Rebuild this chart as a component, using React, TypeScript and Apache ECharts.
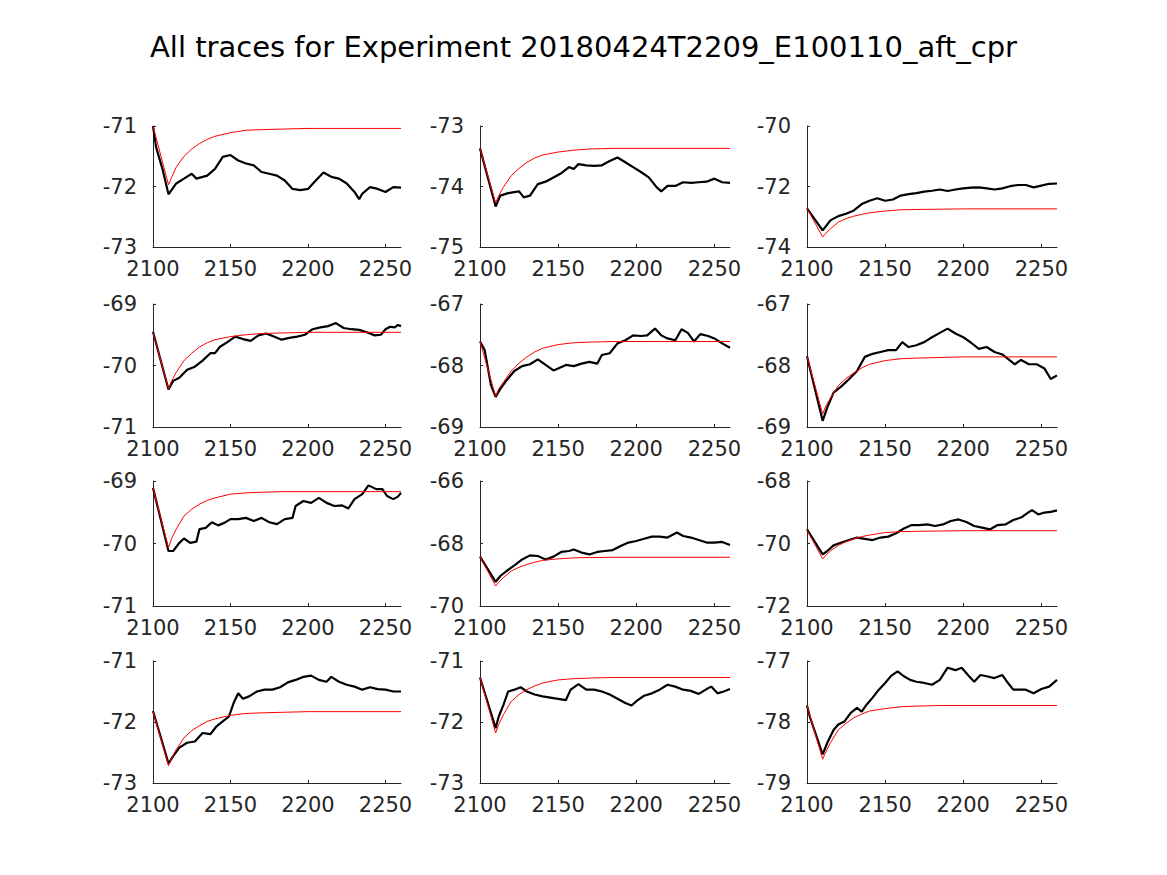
import React, { useEffect, useRef } from "react";
import * as echarts from "echarts";

const TITLE = "All traces for Experiment 20180424T2209_E100110_aft_cpr";
const X_TICKS = [2100, 2150, 2200, 2250];
const X_MIN = 2100;
const X_MAX = 2260;

const Y_MIN = [-73, -75, -74, -71, -69, -69, -71, -70, -72, -73, -73, -79];
const Y_MAX = [-71, -73, -70, -69, -67, -67, -69, -66, -68, -71, -71, -77];
const Y_STEP = [1, 1, 2, 1, 1, 1, 1, 2, 2, 1, 1, 1];

const FIT_X = [2100, 2110, 2112, 2115, 2120, 2125, 2130, 2135, 2140, 2150, 2160, 2170, 2185, 2200, 2260];
const fit1 = [-71.0, -71.97, -71.85, -71.68, -71.5, -71.38, -71.29, -71.22, -71.17, -71.11, -71.07, -71.06, -71.05, -71.04, -71.04];
const fit2 = [-73.37, -74.27, -74.15, -74.01, -73.82, -73.7, -73.6, -73.53, -73.48, -73.43, -73.4, -73.38, -73.37, -73.37, -73.37];
const fit3 = [-72.72, -73.67, -73.55, -73.4, -73.18, -73.06, -72.98, -72.92, -72.87, -72.81, -72.77, -72.76, -72.75, -72.74, -72.74];
const fit4 = [-69.46, -70.38, -70.25, -70.11, -69.92, -69.8, -69.7, -69.63, -69.58, -69.53, -69.5, -69.48, -69.47, -69.46, -69.46];
const fit5 = [-67.61, -68.5, -68.38, -68.27, -68.09, -67.96, -67.86, -67.78, -67.72, -67.66, -67.63, -67.62, -67.61, -67.61, -67.61];
const fit6 = [-67.85, -68.79, -68.66, -68.53, -68.33, -68.21, -68.12, -68.04, -67.98, -67.92, -67.89, -67.88, -67.87, -67.86, -67.86];
const fit7 = [-69.11, -70.07, -69.92, -69.77, -69.56, -69.45, -69.37, -69.31, -69.27, -69.21, -69.19, -69.18, -69.17, -69.17, -69.17];
const fit8 = [-68.42, -69.36, -69.24, -69.09, -68.88, -68.76, -68.67, -68.6, -68.54, -68.49, -68.46, -68.45, -68.44, -68.44, -68.44];
const fit9 = [-69.57, -70.49, -70.38, -70.24, -70.06, -69.94, -69.85, -69.78, -69.73, -69.65, -69.62, -69.61, -69.6, -69.59, -69.59];
const fit10 = [-71.83, -72.72, -72.6, -72.45, -72.26, -72.14, -72.06, -71.99, -71.95, -71.89, -71.86, -71.85, -71.84, -71.83, -71.83];
const fit11 = [-71.27, -72.18, -72.04, -71.88, -71.66, -71.55, -71.47, -71.41, -71.36, -71.31, -71.29, -71.28, -71.27, -71.27, -71.27];
const fit12 = [-77.73, -78.61, -78.49, -78.34, -78.13, -78.02, -77.93, -77.87, -77.82, -77.78, -77.75, -77.74, -77.73, -77.73, -77.73];

const trace1: [number, number][] = [
  [2100, -71.0], [2102, -71.35], [2106, -71.7], [2110, -72.13], [2115, -71.95], [2120, -71.87], [2123, -71.82],
  [2125, -71.79], [2128, -71.87], [2135, -71.82], [2140, -71.71], [2145, -71.51], [2150, -71.48], [2155, -71.57],
  [2160, -71.62], [2165, -71.65], [2170, -71.76], [2175, -71.79], [2180, -71.82], [2185, -71.9], [2190, -72.04],
  [2195, -72.06], [2200, -72.04], [2205, -71.9], [2210, -71.77], [2215, -71.84], [2220, -71.87], [2225, -71.95],
  [2230, -72.09], [2233, -72.21], [2235, -72.12], [2240, -72.01], [2245, -72.04], [2250, -72.09], [2255, -72.01], [2260, -72.02],
];
const trace2: [number, number][] = [
  [2100, -73.37], [2110, -74.33], [2113, -74.15], [2118, -74.11], [2125, -74.08], [2128, -74.18], [2132, -74.15],
  [2137, -73.96], [2142, -73.92], [2147, -73.85], [2152, -73.78], [2157, -73.68], [2160, -73.71], [2163, -73.63],
  [2168, -73.65], [2173, -73.66], [2178, -73.65], [2183, -73.58], [2188, -73.52], [2193, -73.6], [2198, -73.68],
  [2203, -73.76], [2208, -73.85], [2213, -74.01], [2216, -74.08], [2220, -73.99], [2225, -73.99], [2230, -73.93],
  [2235, -73.94], [2240, -73.93], [2245, -73.92], [2250, -73.87], [2255, -73.93], [2260, -73.94],
];
const trace3: [number, number][] = [
  [2100, -72.72], [2110, -73.45], [2115, -73.12], [2120, -72.98], [2125, -72.9], [2130, -72.79], [2135, -72.58],
  [2140, -72.47], [2145, -72.39], [2150, -72.47], [2155, -72.43], [2160, -72.3], [2165, -72.25], [2170, -72.22],
  [2175, -72.17], [2180, -72.14], [2185, -72.1], [2190, -72.15], [2195, -72.1], [2200, -72.06], [2205, -72.04],
  [2210, -72.03], [2215, -72.06], [2220, -72.1], [2225, -72.06], [2230, -71.99], [2235, -71.95], [2240, -71.95],
  [2245, -72.03], [2250, -71.97], [2255, -71.91], [2260, -71.9],
];
const trace4: [number, number][] = [
  [2100, -69.45], [2110, -70.39], [2113, -70.25], [2117, -70.2], [2122, -70.07], [2127, -70.02], [2132, -69.92],
  [2137, -69.8], [2140, -69.8], [2143, -69.7], [2148, -69.62], [2153, -69.53], [2158, -69.57], [2163, -69.6],
  [2168, -69.51], [2173, -69.48], [2178, -69.53], [2183, -69.58], [2188, -69.55], [2193, -69.53], [2198, -69.5],
  [2203, -69.41], [2208, -69.38], [2213, -69.36], [2218, -69.31], [2223, -69.39], [2228, -69.41], [2233, -69.42],
  [2238, -69.46], [2243, -69.51], [2247, -69.5], [2250, -69.41], [2253, -69.37], [2256, -69.38], [2258, -69.34], [2260, -69.36],
];
const trace5: [number, number][] = [
  [2100, -67.61], [2103, -67.75], [2107, -68.32], [2110, -68.51], [2113, -68.38], [2117, -68.24], [2122, -68.09],
  [2127, -68.01], [2132, -67.98], [2137, -67.9], [2142, -67.99], [2147, -68.08], [2150, -68.05], [2155, -67.99],
  [2160, -68.01], [2165, -67.97], [2170, -67.94], [2175, -67.97], [2178, -67.83], [2183, -67.8], [2188, -67.64],
  [2193, -67.59], [2198, -67.51], [2203, -67.52], [2207, -67.51], [2212, -67.4], [2216, -67.51], [2220, -67.56],
  [2225, -67.59], [2229, -67.41], [2233, -67.47], [2237, -67.61], [2241, -67.49], [2246, -67.52], [2250, -67.56],
  [2255, -67.64], [2260, -67.71],
];
const trace6: [number, number][] = [
  [2100, -67.85], [2110, -68.9], [2113, -68.68], [2117, -68.44], [2122, -68.34], [2127, -68.22], [2132, -68.09],
  [2137, -67.86], [2142, -67.81], [2147, -67.78], [2152, -67.75], [2157, -67.75], [2161, -67.62], [2165, -67.7],
  [2170, -67.67], [2175, -67.62], [2180, -67.54], [2185, -67.47], [2190, -67.4], [2195, -67.48], [2200, -67.54],
  [2205, -67.63], [2210, -67.73], [2215, -67.7], [2220, -67.78], [2225, -67.82], [2230, -67.92], [2233, -67.98],
  [2237, -67.91], [2242, -67.98], [2247, -67.98], [2252, -68.05], [2256, -68.22], [2260, -68.16],
];
const trace7: [number, number][] = [
  [2100, -69.11], [2110, -70.12], [2113, -70.12], [2117, -69.99], [2120, -69.92], [2124, -69.99], [2128, -69.97],
  [2130, -69.77], [2134, -69.75], [2138, -69.66], [2142, -69.71], [2146, -69.67], [2150, -69.61], [2155, -69.61],
  [2160, -69.59], [2165, -69.64], [2170, -69.59], [2175, -69.66], [2180, -69.69], [2185, -69.61], [2190, -69.59],
  [2192, -69.4], [2197, -69.32], [2202, -69.35], [2207, -69.27], [2212, -69.35], [2217, -69.4], [2222, -69.39],
  [2226, -69.44], [2230, -69.29], [2235, -69.21], [2239, -69.07], [2244, -69.13], [2248, -69.13], [2251, -69.24],
  [2255, -69.29], [2258, -69.25], [2260, -69.19],
];
const trace8: [number, number][] = [
  [2100, -68.42], [2110, -69.23], [2113, -69.04], [2117, -68.88], [2122, -68.7], [2127, -68.51], [2132, -68.38],
  [2137, -68.4], [2142, -68.51], [2147, -68.42], [2152, -68.27], [2157, -68.24], [2160, -68.19], [2165, -68.29],
  [2170, -68.35], [2175, -68.27], [2180, -68.24], [2185, -68.21], [2190, -68.08], [2195, -67.97], [2200, -67.92],
  [2205, -67.85], [2210, -67.78], [2215, -67.78], [2220, -67.81], [2226, -67.65], [2230, -67.76], [2235, -67.81],
  [2240, -67.89], [2245, -67.97], [2250, -67.97], [2255, -67.95], [2260, -68.05],
];
const trace9: [number, number][] = [
  [2100, -69.55], [2110, -70.35], [2113, -70.24], [2117, -70.06], [2122, -69.97], [2127, -69.89], [2132, -69.81],
  [2137, -69.85], [2142, -69.89], [2147, -69.81], [2152, -69.78], [2157, -69.67], [2162, -69.52], [2167, -69.41],
  [2172, -69.41], [2177, -69.39], [2182, -69.44], [2187, -69.39], [2192, -69.28], [2197, -69.23], [2202, -69.31],
  [2207, -69.44], [2212, -69.49], [2217, -69.55], [2222, -69.41], [2227, -69.39], [2232, -69.25], [2237, -69.17],
  [2241, -69.03], [2244, -68.93], [2248, -69.07], [2252, -69.01], [2256, -68.99], [2260, -68.94],
];
const trace10: [number, number][] = [
  [2100, -71.82], [2110, -72.68], [2113, -72.56], [2117, -72.42], [2122, -72.34], [2127, -72.32], [2132, -72.18],
  [2137, -72.2], [2141, -72.07], [2145, -71.99], [2149, -71.91], [2152, -71.69], [2155, -71.53], [2158, -71.62],
  [2162, -71.58], [2167, -71.5], [2172, -71.47], [2177, -71.47], [2182, -71.43], [2187, -71.35], [2192, -71.31],
  [2197, -71.26], [2202, -71.24], [2207, -71.31], [2212, -71.34], [2215, -71.26], [2220, -71.34], [2225, -71.39],
  [2230, -71.42], [2235, -71.47], [2240, -71.43], [2245, -71.46], [2250, -71.47], [2255, -71.5], [2260, -71.5],
];
const trace11: [number, number][] = [
  [2100, -71.27], [2110, -72.1], [2112, -71.91], [2115, -71.72], [2118, -71.5], [2122, -71.47], [2126, -71.43],
  [2130, -71.5], [2135, -71.55], [2140, -71.58], [2145, -71.6], [2150, -71.62], [2155, -71.64], [2158, -71.47],
  [2163, -71.38], [2168, -71.47], [2173, -71.47], [2178, -71.5], [2183, -71.55], [2188, -71.62], [2193, -71.69],
  [2197, -71.73], [2201, -71.64], [2205, -71.57], [2210, -71.53], [2215, -71.47], [2220, -71.39], [2225, -71.42],
  [2230, -71.47], [2235, -71.49], [2240, -71.54], [2245, -71.46], [2248, -71.42], [2252, -71.53], [2256, -71.5], [2260, -71.46],
];
const trace12: [number, number][] = [
  [2100, -77.73], [2102, -77.93], [2110, -78.53], [2113, -78.34], [2117, -78.13], [2120, -78.04], [2124, -77.99],
  [2128, -77.85], [2132, -77.77], [2135, -77.83], [2138, -77.72], [2142, -77.6], [2146, -77.47], [2150, -77.36],
  [2154, -77.24], [2158, -77.17], [2162, -77.25], [2166, -77.31], [2170, -77.34], [2175, -77.36], [2180, -77.39],
  [2185, -77.31], [2190, -77.11], [2195, -77.15], [2199, -77.11], [2203, -77.23], [2207, -77.34], [2211, -77.23],
  [2215, -77.25], [2220, -77.28], [2225, -77.23], [2228, -77.34], [2232, -77.47], [2236, -77.47], [2240, -77.47],
  [2245, -77.53], [2250, -77.46], [2255, -77.42], [2260, -77.31],
];

const TRACES = [trace1, trace2, trace3, trace4, trace5, trace6, trace7, trace8, trace9, trace10, trace11, trace12];
const FITS = [fit1, fit2, fit3, fit4, fit5, fit6, fit7, fit8, fit9, fit10, fit11, fit12];

const GRID_LEFT = [153, 480, 807];
const GRID_WIDTH = [248, 250, 250];
const GRID_TOP = [126, 304, 481, 661];
const GRID_HEIGHT = [121, 123, 125, 122];

const AXIS_COLOR = "#262626";
const FONT = "DejaVu Sans";
const TICK_FONT_SIZE = 21;

export default function App() {
  const ref = useRef<HTMLDivElement>(null);
  useEffect(() => {
    if (!ref.current) return;
    const chart = echarts.init(ref.current, undefined, { renderer: "svg" });
    const grid: any[] = [];
    const xAxis: any[] = [];
    const yAxis: any[] = [];
    const series: any[] = [];
    for (let i = 0; i < 12; i++) {
      const r = Math.floor(i / 3);
      const c = i % 3;
      grid.push({ left: GRID_LEFT[c], top: GRID_TOP[r], width: GRID_WIDTH[c], height: GRID_HEIGHT[r] });
      xAxis.push({
        gridIndex: i,
        type: "value",
        min: X_MIN,
        max: X_MAX,
        interval: 50,
        axisLine: { show: true, onZero: false, lineStyle: { color: AXIS_COLOR, width: 1 } },
        axisTick: { show: true, inside: true, length: 3, customValues: X_TICKS, lineStyle: { color: AXIS_COLOR } },
        axisLabel: {
          customValues: X_TICKS,
          formatter: (v: number) => String(v),
          color: AXIS_COLOR,
          fontSize: TICK_FONT_SIZE,
          fontFamily: FONT,
          margin: 11,
        },
        splitLine: { show: false },
      });
      yAxis.push({
        gridIndex: i,
        type: "value",
        min: Y_MIN[i],
        max: Y_MAX[i],
        interval: Y_STEP[i],
        axisLine: { show: true, onZero: false, lineStyle: { color: AXIS_COLOR, width: 1 } },
        axisTick: { show: true, inside: true, length: 3, lineStyle: { color: AXIS_COLOR } },
        axisLabel: {
          formatter: (v: number) => String(v),
          color: AXIS_COLOR,
          fontSize: TICK_FONT_SIZE,
          fontFamily: FONT,
          margin: 16,
        },
        splitLine: { show: false },
      });
      series.push({
        type: "line",
        xAxisIndex: i,
        yAxisIndex: i,
        data: TRACES[i],
        symbol: "none",
        silent: true,
        lineStyle: { color: "#000000", width: 2.2 },
      });
      series.push({
        type: "line",
        xAxisIndex: i,
        yAxisIndex: i,
        data: FIT_X.map((x, k) => [x, FITS[i][k]]),
        symbol: "none",
        silent: true,
        lineStyle: { color: "#ff0000", width: 1 },
      });
    }
    chart.setOption({
      animation: false,
      backgroundColor: "#ffffff",
      title: {
        text: TITLE,
        left: "center",
        top: 27,
        textStyle: { fontFamily: FONT, fontSize: 29, fontWeight: "normal", color: "#000000" },
      },
      grid,
      xAxis,
      yAxis,
      series,
    });
    return () => chart.dispose();
  }, []);
  return (
    <div
      ref={ref}
      style={{ position: "fixed", left: 0, top: 0, width: 1167, height: 875, background: "#ffffff" }}
    />
  );
}
